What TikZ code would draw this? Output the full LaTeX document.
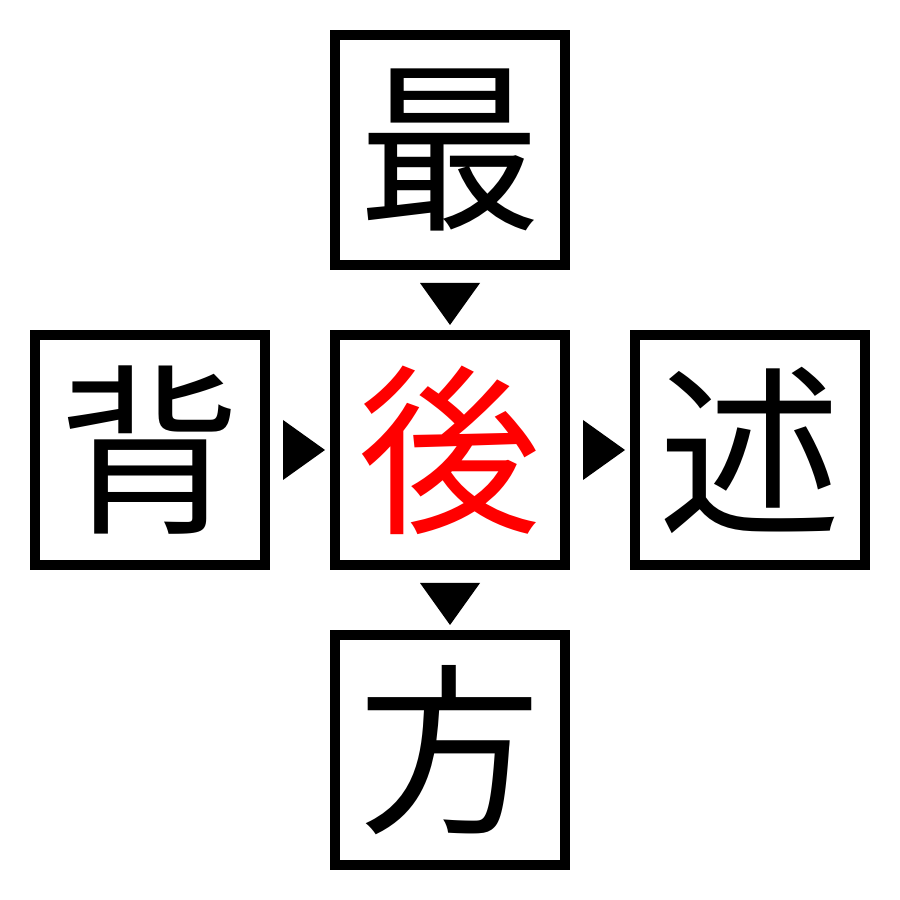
\documentclass[tikz,border=0pt]{standalone}
\usepackage{fontspec}
\newfontfamily\jpfont{Noto Sans CJK JP}
\usetikzlibrary{positioning,calc}
\begin{document}
\begin{tikzpicture}

\tikzstyle{kanji}=[draw=black,line width=0.1cm,minimum size=2.3cm,inner sep=0pt,
font=\jpfont\fontsize{52}{52}\selectfont]

\useasboundingbox (0,0) rectangle (9,9);

\node[kanji] (center) at (4.5,4.5) {\textcolor{red}{後}};
\node[kanji,above=0.6cm of center] (top) {最};
\node[kanji,below=0.6cm of center] (bottom) {方};
\node[kanji,left=0.6cm of center] (left) {背};
\node[kanji,right=0.6cm of center] (right) {述};

% pointers between the boxes
\fill ($(top.south)+(-0.3,-0.13)$) -- ($(top.south)+(0.3,-0.13)$) -- ($(top.south)+(0,-0.55)$) -- cycle;
\fill ($(center.south)+(-0.3,-0.13)$) -- ($(center.south)+(0.3,-0.13)$) -- ($(center.south)+(0,-0.55)$) -- cycle;
\fill ($(left.east)+(0.13,0.3)$) -- ($(left.east)+(0.13,-0.3)$) -- ($(left.east)+(0.55,0)$) -- cycle;
\fill ($(center.east)+(0.13,0.3)$) -- ($(center.east)+(0.13,-0.3)$) -- ($(center.east)+(0.55,0)$) -- cycle;
\end{tikzpicture}
\end{document}
